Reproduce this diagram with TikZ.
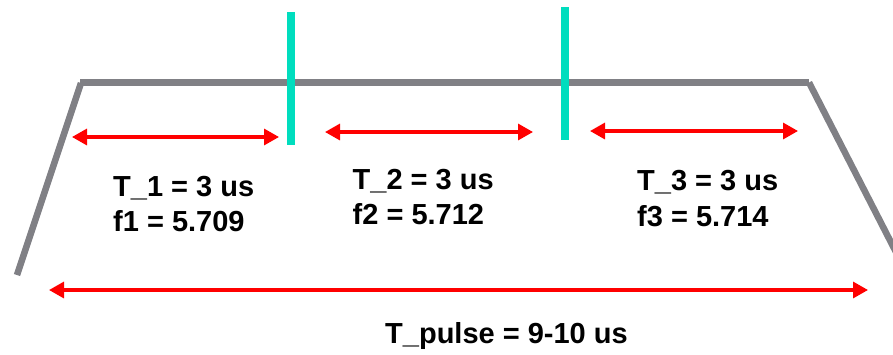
\documentclass[tikz,border=0pt]{standalone}
\usepackage{fontspec}
\setmainfont{Liberation Sans}
\usetikzlibrary{arrows.meta}
\definecolor{edgegray}{RGB}{128,128,133}
\definecolor{markteal}{RGB}{0,221,190}
\definecolor{arrred}{RGB}{255,0,0}
\tikzset{
  pulseedge/.style={draw=edgegray,line width=6.5pt,line cap=butt},
  divider/.style={draw=markteal,line width=7.5pt},
  span/.style={draw=arrred,line width=3.2pt,{Triangle[length=15pt,width=16pt]}-{Triangle[length=15pt,width=16pt]}},
  lbl/.style={inner sep=0pt,anchor=base west,font=\fontsize{29}{35}\selectfont\bfseries}
}
\begin{document}
\begin{tikzpicture}[x=1pt,y=-1pt]
\useasboundingbox (0,0) rectangle (893,354);
\clip (0,0) rectangle (893,354);
% pulse outline
\coordinate (bl) at (17,275);
\coordinate (tl) at (81,83);
\coordinate (tr) at (809,82.5);
\coordinate (br) at (899,258);
\draw[pulseedge] (bl) -- (tl);
\draw[pulseedge] (80,82.5) -- (tr);
\draw[pulseedge] (tr) -- (br);
% dividers
\coordinate (d1a) at (291,12);
\coordinate (d1b) at (291,145);
\coordinate (d2a) at (565,7);
\coordinate (d2b) at (565,140);
\draw[divider] (d1a) -- (d1b);
\draw[divider] (d2a) -- (d2b);
% span arrows
\coordinate (a1l) at (72,137);
\coordinate (a1r) at (279,137);
\coordinate (a2l) at (325,132);
\coordinate (a2r) at (533,132);
\coordinate (a3l) at (590,131);
\coordinate (a3r) at (798,131);
\coordinate (apl) at (49,290);
\coordinate (apr) at (868,290);
\draw[span] (a1l) -- (a1r);
\draw[span] (a2l) -- (a2r);
\draw[span] (a3l) -- (a3r);
\draw[span] (apl) -- (apr);
% labels
\node[lbl] (t1) at (113,196.5) {T\_1 = 3 us};
\node[lbl] (f1) at (113,231.5) {f1 = 5.709};
\node[lbl] (t2) at (352.5,189) {T\_2 = 3 us};
\node[lbl] (f2) at (352.5,224) {f2 = 5.712};
\node[lbl] (t3) at (637,190) {T\_3 = 3 us};
\node[lbl] (f3) at (637,226) {f3 = 5.714};
\node[lbl,anchor=base] (tp) at (506.5,343) {T\_pulse = 9-10 us};
\end{tikzpicture}
\end{document}
